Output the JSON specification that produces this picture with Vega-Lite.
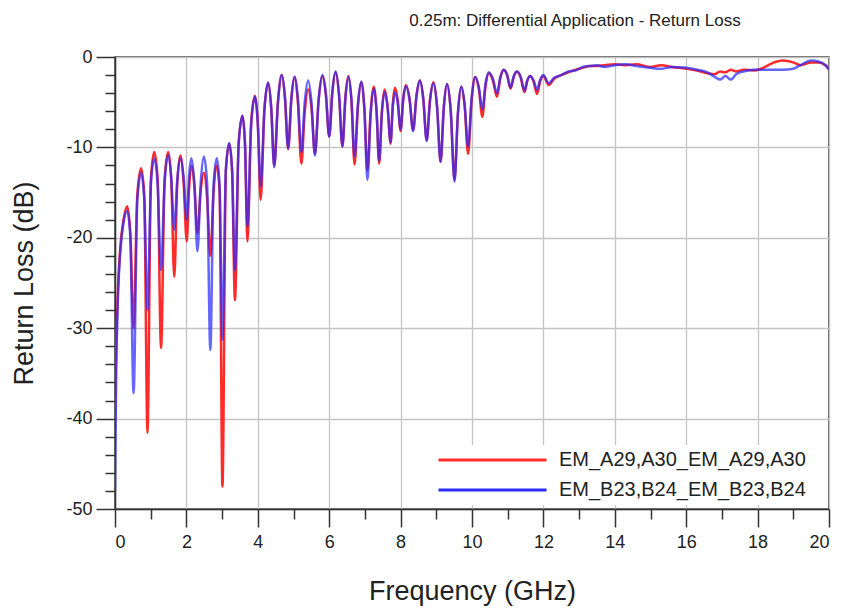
{
  "$schema": "https://vega.github.io/schema/vega-lite/v6.json",
  "autosize": {"type": "none"},
  "padding": {"left": 115, "top": 57, "right": 15, "bottom": 101},
  "width": 714,
  "height": 452,
  "background": "white",
  "config": {
    "font": "Liberation Sans",
    "view": {"stroke": "#333333", "strokeWidth": 1.5},
    "axis": {
      "domainColor": "#333333",
      "domainWidth": 1.5,
      "tickColor": "#333333",
      "tickWidth": 1.5,
      "gridColor": "#c4c4c4",
      "gridWidth": 1.3,
      "labelColor": "#222222",
      "labelFont": "Liberation Sans",
      "labelFontSize": 18,
      "titleColor": "#222222",
      "titleFont": "Liberation Sans",
      "titleFontSize": 27,
      "titleFontWeight": "normal"
    }
  },
  "title": {
    "text": "0.25m: Differential Application - Return Loss",
    "font": "Liberation Sans",
    "fontSize": 17,
    "fontWeight": "normal",
    "color": "#222222",
    "anchor": "middle",
    "frame": "group",
    "dx": 103,
    "offset": 18
  },
  "data": {
    "values": [
      {"f": 0, "a": -40, "b": -48},
      {"f": 0.03, "a": -33, "b": -36},
      {"f": 0.08, "a": -26, "b": -27},
      {"f": 0.15, "a": -21, "b": -21.5},
      {"f": 0.24, "a": -18, "b": -18.3},
      {"f": 0.34, "a": -16.5, "b": -17},
      {"f": 0.43, "a": -19.5, "b": -20},
      {"f": 0.52, "a": -30, "b": -37.2},
      {"f": 0.625, "a": -15.3, "b": -15.8},
      {"f": 0.73, "a": -12.3, "b": -12.8},
      {"f": 0.82, "a": -15.3, "b": -15.8},
      {"f": 0.91, "a": -41.6, "b": -28},
      {"f": 1.005, "a": -13.5, "b": -14.2},
      {"f": 1.1, "a": -10.5, "b": -11.2},
      {"f": 1.195, "a": -13.5, "b": -14.2},
      {"f": 1.29, "a": -32.2, "b": -23.6},
      {"f": 1.39, "a": -13.5, "b": -13.9},
      {"f": 1.49, "a": -10.5, "b": -10.9},
      {"f": 1.575, "a": -13.5, "b": -13.4},
      {"f": 1.66, "a": -24.3, "b": -19.1},
      {"f": 1.745, "a": -13.9, "b": -13.6},
      {"f": 1.83, "a": -10.9, "b": -11.2},
      {"f": 1.92, "a": -13.8, "b": -13.2},
      {"f": 2.01, "a": -20.4, "b": -18},
      {"f": 2.075, "a": -14.5, "b": -13.2},
      {"f": 2.14, "a": -12, "b": -11.2},
      {"f": 2.225, "a": -14.3, "b": -14.2},
      {"f": 2.31, "a": -19.5, "b": -21.5},
      {"f": 2.4, "a": -14.8, "b": -14},
      {"f": 2.49, "a": -12.8, "b": -11},
      {"f": 2.58, "a": -15.6, "b": -14},
      {"f": 2.67, "a": -22, "b": -32.4},
      {"f": 2.76, "a": -15, "b": -14.2},
      {"f": 2.85, "a": -12, "b": -11.2},
      {"f": 2.93, "a": -15, "b": -14.2},
      {"f": 3.01, "a": -47.5, "b": -31.3},
      {"f": 3.105, "a": -12.6, "b": -12.5},
      {"f": 3.2, "a": -9.6, "b": -9.5},
      {"f": 3.28, "a": -12.6, "b": -12.5},
      {"f": 3.36, "a": -26.9, "b": -23.6},
      {"f": 3.465, "a": -9.5, "b": -9.5},
      {"f": 3.57, "a": -6.5, "b": -6.5},
      {"f": 3.64, "a": -9.5, "b": -9.5},
      {"f": 3.71, "a": -20.4, "b": -18.8},
      {"f": 3.815, "a": -7.3, "b": -7.4},
      {"f": 3.92, "a": -4.3, "b": -4.4},
      {"f": 4.0, "a": -7.3, "b": -7.4},
      {"f": 4.08, "a": -15.8, "b": -14.3},
      {"f": 4.185, "a": -5.9, "b": -5.8},
      {"f": 4.29, "a": -2.9, "b": -2.8},
      {"f": 4.375, "a": -5.6, "b": -5.6},
      {"f": 4.46, "a": -12, "b": -12.2},
      {"f": 4.565, "a": -5, "b": -5},
      {"f": 4.67, "a": -2, "b": -2},
      {"f": 4.76, "a": -4.5, "b": -4.4},
      {"f": 4.85, "a": -10.2, "b": -10.1},
      {"f": 4.94, "a": -4.6, "b": -4.6},
      {"f": 5.03, "a": -2.2, "b": -2.2},
      {"f": 5.125, "a": -5.1, "b": -4.7},
      {"f": 5.22, "a": -11.8, "b": -10.5},
      {"f": 5.315, "a": -6.1, "b": -5},
      {"f": 5.41, "a": -3.6, "b": -2.6},
      {"f": 5.505, "a": -5.7, "b": -5.1},
      {"f": 5.6, "a": -10.7, "b": -10.9},
      {"f": 5.705, "a": -4.7, "b": -4.7},
      {"f": 5.81, "a": -2.1, "b": -2},
      {"f": 5.905, "a": -4.1, "b": -4},
      {"f": 6.0, "a": -8.8, "b": -8.8},
      {"f": 6.09, "a": -3.8, "b": -3.8},
      {"f": 6.18, "a": -1.7, "b": -1.6},
      {"f": 6.275, "a": -4.2, "b": -4.1},
      {"f": 6.37, "a": -9.9, "b": -9.9},
      {"f": 6.455, "a": -4.4, "b": -4.5},
      {"f": 6.54, "a": -2.1, "b": -2.2},
      {"f": 6.625, "a": -5, "b": -4.8},
      {"f": 6.71, "a": -11.9, "b": -11},
      {"f": 6.805, "a": -5.5, "b": -5.2},
      {"f": 6.9, "a": -2.8, "b": -2.7},
      {"f": 6.985, "a": -5.7, "b": -5.7},
      {"f": 7.07, "a": -12.5, "b": -13.6},
      {"f": 7.16, "a": -6.1, "b": -6.5},
      {"f": 7.25, "a": -3.3, "b": -3.5},
      {"f": 7.325, "a": -5.9, "b": -5.9},
      {"f": 7.4, "a": -11.8, "b": -11.5},
      {"f": 7.475, "a": -6.1, "b": -6.2},
      {"f": 7.55, "a": -3.6, "b": -3.9},
      {"f": 7.635, "a": -5.4, "b": -5.6},
      {"f": 7.72, "a": -9.6, "b": -9.4},
      {"f": 7.78, "a": -5.3, "b": -5.6},
      {"f": 7.84, "a": -3.4, "b": -3.9},
      {"f": 7.92, "a": -4.8, "b": -5.1},
      {"f": 8.0, "a": -8.2, "b": -8},
      {"f": 8.075, "a": -4.6, "b": -4.6},
      {"f": 8.15, "a": -3.1, "b": -3.2},
      {"f": 8.25, "a": -4.6, "b": -4.7},
      {"f": 8.35, "a": -8.1, "b": -8.2},
      {"f": 8.445, "a": -4.3, "b": -4.3},
      {"f": 8.54, "a": -2.6, "b": -2.6},
      {"f": 8.635, "a": -4.6, "b": -4.6},
      {"f": 8.73, "a": -9.2, "b": -9.3},
      {"f": 8.825, "a": -4.7, "b": -4.8},
      {"f": 8.92, "a": -2.8, "b": -2.9},
      {"f": 9.02, "a": -5.4, "b": -5.5},
      {"f": 9.12, "a": -11.6, "b": -11.6},
      {"f": 9.21, "a": -5.6, "b": -5.6},
      {"f": 9.3, "a": -3, "b": -3},
      {"f": 9.405, "a": -6, "b": -6},
      {"f": 9.51, "a": -13.6, "b": -13.8},
      {"f": 9.605, "a": -6.3, "b": -6.3},
      {"f": 9.7, "a": -3.3, "b": -3.3},
      {"f": 9.795, "a": -5.5, "b": -5.3},
      {"f": 9.89, "a": -10.7, "b": -9.9},
      {"f": 9.99, "a": -4.8, "b": -4.5},
      {"f": 10.09, "a": -2.2, "b": -2.2},
      {"f": 10.19, "a": -3.5, "b": -3.3},
      {"f": 10.29, "a": -6.6, "b": -5.8},
      {"f": 10.38, "a": -3.2, "b": -2.9},
      {"f": 10.47, "a": -1.8, "b": -1.7},
      {"f": 10.585, "a": -2.6, "b": -2.4},
      {"f": 10.7, "a": -4.4, "b": -4},
      {"f": 10.795, "a": -2.3, "b": -2.2},
      {"f": 10.89, "a": -1.4, "b": -1.4},
      {"f": 10.985, "a": -2, "b": -2},
      {"f": 11.08, "a": -3.5, "b": -3.4},
      {"f": 11.17, "a": -2.2, "b": -2.1},
      {"f": 11.26, "a": -1.6, "b": -1.6},
      {"f": 11.365, "a": -2.3, "b": -2.2},
      {"f": 11.47, "a": -3.9, "b": -3.7},
      {"f": 11.55, "a": -2.6, "b": -2.6},
      {"f": 11.63, "a": -2.1, "b": -2.1},
      {"f": 11.725, "a": -2.7, "b": -2.6},
      {"f": 11.82, "a": -4.1, "b": -3.6},
      {"f": 11.91, "a": -2.7, "b": -2.5},
      {"f": 12.0, "a": -2.1, "b": -2.0},
      {"f": 12.15, "a": -3.1, "b": -2.9},
      {"f": 12.3, "a": -2.4, "b": -2.3},
      {"f": 12.5, "a": -2.0, "b": -2.0},
      {"f": 12.7, "a": -1.7, "b": -1.6},
      {"f": 12.9, "a": -1.4, "b": -1.5},
      {"f": 13.1, "a": -1.2, "b": -1.1},
      {"f": 13.3, "a": -1.0, "b": -1.0},
      {"f": 13.5, "a": -1.0, "b": -0.9},
      {"f": 13.7, "a": -0.9, "b": -1.1},
      {"f": 14.0, "a": -0.8, "b": -0.9},
      {"f": 14.3, "a": -0.9, "b": -0.8},
      {"f": 14.6, "a": -0.8, "b": -1.0},
      {"f": 15.0, "a": -1.1, "b": -1.2},
      {"f": 15.3, "a": -0.9, "b": -1.3},
      {"f": 15.6, "a": -1.1, "b": -1.1},
      {"f": 16.0, "a": -1.3, "b": -1.2},
      {"f": 16.3, "a": -1.5, "b": -1.4},
      {"f": 16.6, "a": -1.8, "b": -1.7},
      {"f": 16.8, "a": -1.9, "b": -2.2},
      {"f": 16.95, "a": -1.6, "b": -2.5},
      {"f": 17.1, "a": -1.7, "b": -2.1},
      {"f": 17.25, "a": -1.4, "b": -2.5},
      {"f": 17.4, "a": -1.6, "b": -1.9},
      {"f": 17.6, "a": -1.4, "b": -1.6},
      {"f": 17.9, "a": -1.5, "b": -1.4},
      {"f": 18.1, "a": -1.3, "b": -1.4},
      {"f": 18.4, "a": -0.7, "b": -1.4},
      {"f": 18.7, "a": -0.4, "b": -1.4},
      {"f": 19.0, "a": -0.6, "b": -1.3},
      {"f": 19.2, "a": -0.9, "b": -0.9},
      {"f": 19.5, "a": -0.6, "b": -0.4},
      {"f": 19.7, "a": -0.6, "b": -0.5},
      {"f": 19.9, "a": -0.9, "b": -0.9},
      {"f": 20.0, "a": -1.3, "b": -1.4}
    ]
  },
  "transform": [
    {"fold": ["a", "b"], "as": ["series", "dB"]}
  ],
  "mark": {"type": "line", "strokeWidth": 2.5, "interpolate": "monotone", "clip": true},
  "encoding": {
    "x": {
      "field": "f",
      "type": "quantitative",
      "scale": {"domain": [0, 20], "nice": false, "zero": false},
      "axis": {
        "title": "Frequency (GHz)",
        "values": [0, 1, 2, 3, 4, 5, 6, 7, 8, 9, 10, 11, 12, 13, 14, 15, 16, 17, 18, 19, 20],
        "labelExpr": "datum.value % 2 == 0 ? '' + datum.value : ''",
        "tickSize": {"condition": {"test": "datum.value % 2 == 0", "value": 18}, "value": 10},
        "gridOpacity": {"condition": {"test": "datum.value % 2 == 0", "value": 1}, "value": 0},
        "labelPadding": 6,
        "titleY": 90,
        "titleBaseline": "alphabetic"
      }
    },
    "y": {
      "field": "dB",
      "type": "quantitative",
      "scale": {"domain": [-50, 0], "nice": false},
      "axis": {
        "title": "Return Loss (dB)",
        "values": [-50, -48, -46, -44, -42, -40, -38, -36, -34, -32, -30, -28, -26, -24, -22, -20, -18, -16, -14, -12, -10, -8, -6, -4, -2, 0],
        "labelExpr": "datum.value % 10 == 0 ? '' + datum.value : ''",
        "tickSize": {"condition": {"test": "datum.value % 10 == 0", "value": 19}, "value": 10},
        "gridOpacity": {"condition": {"test": "datum.value % 10 == 0", "value": 1}, "value": 0},
        "labelPadding": 4,
        "titleX": -83,
        "titleY": 226,
        "titleBaseline": "alphabetic"
      }
    },
    "color": {
      "field": "series",
      "type": "nominal",
      "scale": {"domain": ["a", "b"], "range": ["#ff2a2a", "#2a2aff"]},
      "legend": {
        "title": null,
        "orient": "none",
        "legendX": 322,
        "legendY": 388,
        "fillColor": "white",
        "padding": 0,
        "rowPadding": 0,
        "clipHeight": 30,
        "symbolType": "stroke",
        "symbolSize": 11664,
        "symbolStrokeWidth": 3,
        "symbolOpacity": 1,
        "labelFont": "Liberation Sans",
        "labelFontSize": 20,
        "labelColor": "#222222",
        "labelOffset": 11,
        "labelLimit": 400,
        "labelExpr": "datum.value == 'a' ? 'EM_A29,A30_EM_A29,A30' : 'EM_B23,B24_EM_B23,B24'"
      }
    },
    "strokeOpacity": {
      "field": "series",
      "type": "nominal",
      "scale": {"domain": ["a", "b"], "range": [1, 0.72]},
      "legend": null
    }
  }
}
